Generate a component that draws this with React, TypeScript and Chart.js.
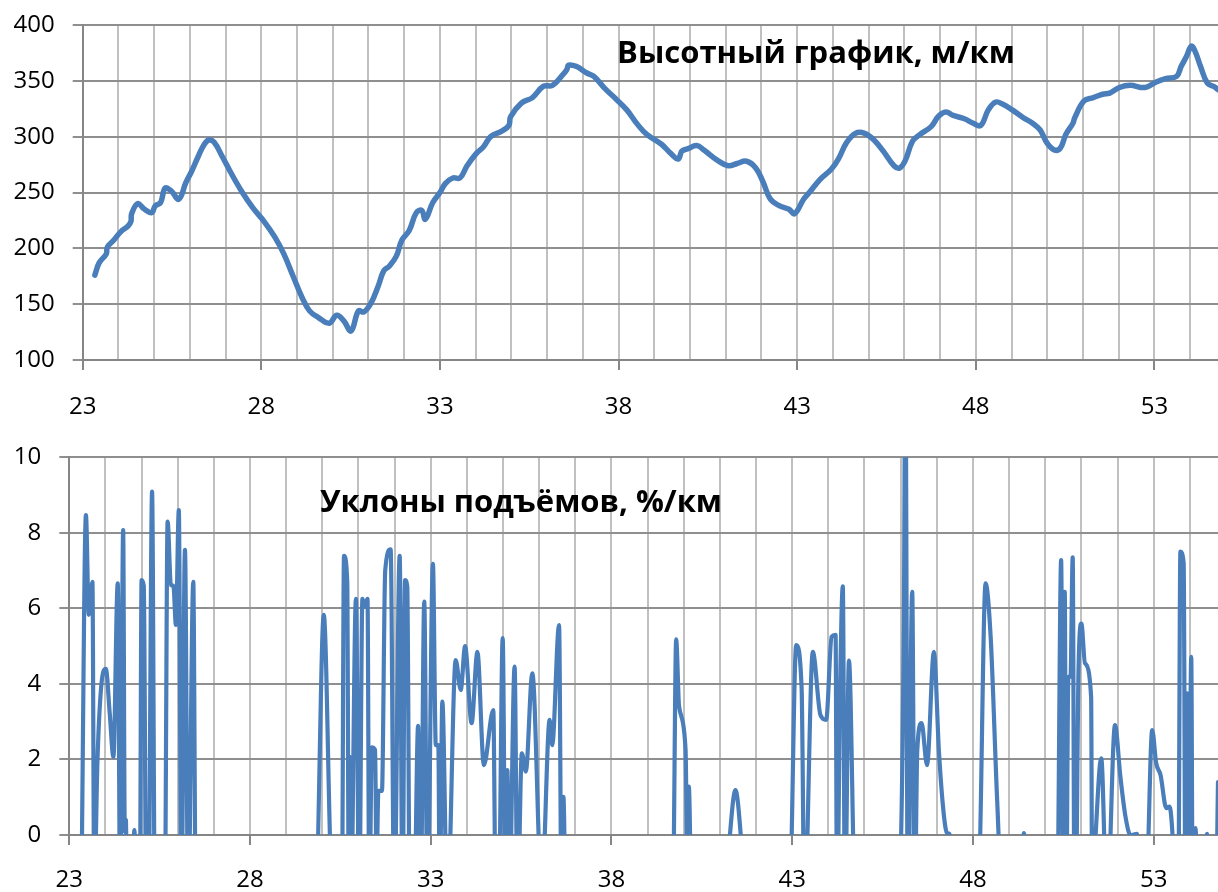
import React, { useEffect, useRef } from 'react';
import { Chart, registerables } from 'chart.js';

Chart.register(...registerables);

// ---- Data ----
const elevKm = [
  23.34, 23.46, 23.66, 23.69, 23.86, 24.07, 24.27, 24.35, 24.37, 24.54, 24.73, 24.93, 25.03, 25.18,
  25.31, 25.49, 25.69, 25.89, 26.05, 26.23, 26.40, 26.53, 26.68, 26.91, 27.16, 27.47, 27.77, 28.08,
  28.38, 28.63, 28.89, 29.14, 29.35, 29.60, 29.90, 30.11, 30.31, 30.51, 30.72, 30.87, 31.07, 31.27,
  31.43, 31.58, 31.78, 31.93, 32.14, 32.34, 32.49, 32.59, 32.80, 33.00, 33.15, 33.36, 33.56, 33.76,
  34.02, 34.22, 34.42, 34.73, 34.93, 34.98, 35.28, 35.59, 35.89, 36.15, 36.40, 36.55, 36.60, 36.81,
  37.11, 37.31, 37.62, 37.92, 38.23, 38.53, 38.79, 39.21, 39.46, 39.67, 39.77, 39.93, 40.19, 40.39,
  40.76, 41.07, 41.32, 41.58, 41.84, 42.05, 42.25, 42.51, 42.77, 42.93, 43.18, 43.34, 43.65, 43.96,
  44.17, 44.37, 44.63, 44.89, 45.15, 45.41, 45.71, 45.87, 46.03, 46.23, 46.44, 46.75, 46.95, 47.16,
  47.37, 47.68, 47.93, 48.14, 48.35, 48.56, 48.76, 49.02, 49.33, 49.59, 49.80, 50.00, 50.21, 50.37,
  50.52, 50.72, 50.77, 51.03, 51.29, 51.55, 51.75, 52.02, 52.32, 52.74, 53.05, 53.31, 53.62, 53.75,
  53.90, 54.03, 54.13, 54.29, 54.48, 54.66, 54.79,
];
const elevM = [
  176, 187, 195, 201, 207, 215, 220, 224, 231, 240, 235, 232, 238, 241,
  254, 251, 244, 259, 269, 282, 293, 297, 295, 282, 267, 250, 236, 224,
  210, 195, 175, 156, 144, 138, 133, 140, 135, 126, 144, 143, 151, 166,
  180, 184, 193, 207, 216, 232, 234, 226, 241, 250, 258, 263, 263, 274,
  285, 291, 300, 305, 310, 318, 330, 335, 345, 346, 354, 360, 364, 363,
  357, 354, 343, 334, 324, 311, 302, 293, 285, 280, 287, 289, 292, 288,
  279, 274, 276, 278, 272, 259, 244, 238, 235, 231, 244, 250, 262, 271,
  281, 294, 303, 303, 297, 287, 274, 272, 279, 296, 302, 309, 318, 322,
  319, 316, 312, 310, 324, 331, 329, 324, 317, 312, 306, 294, 288, 290,
  302, 312, 317, 332, 335, 338, 339, 344, 346, 344, 349, 352, 354, 363,
  372, 381, 377, 363, 348, 345, 342,
];

const slopeKm = [
  23.34, 23.46, 23.54, 23.64, 23.69, 23.78, 23.88, 24.01, 24.12, 24.22, 24.34, 24.41, 24.49, 24.535,
  24.565, 24.6, 24.76, 24.8, 24.84, 24.95, 25.0, 25.06, 25.13, 25.19, 25.29, 25.37, 25.64, 25.72,
  25.81, 25.88, 25.95, 26.03, 26.1, 26.2, 26.29, 26.43, 26.5, 29.82, 30.04, 30.27, 30.54, 30.6,
  30.69, 30.73, 30.76, 30.79, 30.93, 31.02, 31.11, 31.17, 31.25, 31.3, 31.37, 31.46, 31.5, 31.55,
  31.65, 31.74, 31.89, 31.99, 32.14, 32.22, 32.29, 32.35, 32.42, 32.54, 32.65, 32.72, 32.82, 32.91,
  33.06, 33.14, 33.21, 33.25, 33.32, 33.46, 33.69, 33.83, 33.95, 34.13, 34.29, 34.47, 34.73, 34.8,
  34.88, 34.99, 35.07, 35.12, 35.17, 35.32, 35.4, 35.52, 35.63, 35.81, 36.07, 36.29, 36.36, 36.55,
  36.62, 36.67, 36.74, 39.7, 39.79, 39.87, 40.05, 40.1, 40.14, 40.22, 41.16, 41.43, 41.7, 42.93,
  43.11, 43.26, 43.34, 43.57, 43.78, 43.94, 44.09, 44.2, 44.24, 44.33, 44.4, 44.46, 44.57, 44.75,
  45.9, 46.09, 46.13, 46.2, 46.32, 46.39, 46.46, 46.58, 46.73, 46.92, 47.06, 47.2, 47.29, 47.35,
  47.43, 48.15, 48.35, 48.49, 48.67, 48.8, 49.35, 49.41, 49.47, 50.33, 50.44, 50.5, 50.54, 50.58,
  50.64, 50.7, 50.76, 50.81, 50.84, 50.92, 51.0, 51.1, 51.27, 51.3, 51.4, 51.55, 51.71, 51.93,
  52.08, 52.22, 52.36, 52.54, 52.64, 52.8, 52.96, 53.07, 53.19, 53.35, 53.44, 53.68, 53.74, 53.83,
  53.88, 53.93, 53.97, 54.04, 54.08, 54.16, 54.22, 54.48, 54.52, 54.72, 54.78,
];
const slopePct = [
  -1, 8.47, 5.83, 6.7, -1.5, 2.0, 3.9, 4.4, 3.2, 2.07, 6.66, -2, 8.07, 0.1,
  0.4, -2, -1, 0.13, -1, -2, 6.75, 6.6, -2, -2, 9.09, -2, -2, 8.3,
  6.62, 6.6, 5.56, 8.6, -2, 7.55, -2, 6.7, -2, -1.5, 5.83, -1.5, -2, 7.39,
  6.7, -1, 2.07, -2, 6.25, -2, 6.25, 6.05, 6.25, -2, 2.32, 2.25, -1, 1.17,
  1.17, 7.0, 7.56, -2, 7.39, -2, 6.75, 6.58, -2, -2, 2.89, -2, 6.18, -2,
  7.18, 2.38, 2.38, -2, 3.53, -2, 4.63, 3.84, 5.0, 2.96, 4.85, 1.85, 3.31, -2,
  -2, 5.21, -2, 1.72, -2, 4.46, -2, 2.16, 1.68, 4.28, -1.5, 3.05, 2.38, 5.56,
  -2, 1.01, -2, -1.5, 5.18, 3.4, 2.25, -1, 1.28, -2, -1, 1.19, -1, -1.5,
  5.03, 3.9, -2, 4.85, 3.18, 3.05, 5.25, 5.3, -2, 4.2, 6.58, -2, 4.62, -2,
  -2, 5.78, 13, -2, 6.44, -2, 2.25, 2.96, 1.85, 4.85, 2.2, 0.49, 0.04, 0.04,
  -2, -1.5, 6.66, 5.25, 0.93, -1.5, -1, 0.05, -1, -2, 7.28, -2, 6.44, -2,
  4.19, 4.19, 7.35, -2, -2, 4.3, 5.6, 4.55, 3.66, -2, 0.1, 2.03, -2, 2.91,
  1.54, 0.49, 0.0, 0.03, -2, -1.5, 2.78, 1.9, 1.59, 0.71, 0.75, -2, 7.5, 7.19,
  -2, 3.75, -2, 4.72, -2, 0.18, -2, 0.03, -2, -2, 1.4,
];

const xTickLabels = ['23', '28', '33', '38', '43', '48', '53'];
const elevTicks = [100, 150, 200, 250, 300, 350, 400];
const slopeTicks = [0, 2, 4, 6, 8, 10];
const topTitle = 'Высотный график, м/км';
const bottomTitle = 'Уклоны подъёмов, %/км';

const X_MIN = 23;
const X_MAX = 54.78;
const BLUE = '#4a7ebb';
const FONT = '"Open Sans", "Noto Sans", sans-serif';
const H_GRID = '#8f8f8f';
const V_GRID = '#c0c0c0';
const AXIS = '#868686';

Chart.defaults.font.family = FONT;

function labelFor(v: number): string {
  const s = String(Math.round(v * 1000) / 1000);
  return xTickLabels.includes(s) ? s : '';
}

type PanelCfg = {
  xs: number[];
  ys: number[];
  yTicks: number[];
  title: string;
  titleX: number;
  titleBaseline: number;
  padTop: number;
  axisWidth: number;
  xAxisHeight: number;
  labelPad: number;
  lineWidth: number;
  monotone: boolean;
};

function buildChart(canvas: HTMLCanvasElement, cfg: PanelCfg) {
  const titlePlugin = {
    id: 'innerTitle',
    afterDraw(chart: any) {
      const ctx = chart.ctx as CanvasRenderingContext2D;
      ctx.save();
      ctx.font = `bold 31px ${FONT}`;
      ctx.fillStyle = '#000';
      ctx.textAlign = 'center';
      ctx.textBaseline = 'alphabetic';
      ctx.fillText(cfg.title, cfg.titleX, cfg.titleBaseline);
      ctx.restore();
    },
  };
  const yMin = cfg.yTicks[0];
  const yMax = cfg.yTicks[cfg.yTicks.length - 1];
  const yStep = cfg.yTicks[1] - cfg.yTicks[0];
  return new Chart(canvas, {
    type: 'line',
    data: {
      datasets: [
        {
          data: cfg.xs.map((x, i) => ({ x, y: cfg.ys[i] })),
          borderColor: BLUE,
          borderWidth: cfg.lineWidth,
          pointRadius: 0,
          tension: 0.4,
          cubicInterpolationMode: cfg.monotone ? 'monotone' : 'default',
          fill: false,
          clip: 0,
          capBezierPoints: false,
          borderCapStyle: 'round',
          borderJoinStyle: 'round',
        } as any,
      ],
    },
    options: {
      animation: false,
      responsive: false,
      maintainAspectRatio: false,
      layout: { padding: { top: cfg.padTop, left: 0, right: 0, bottom: 0 } },
      plugins: {
        legend: { display: false },
        tooltip: { enabled: false },
        title: { display: false },
      },
      scales: {
        x: {
          type: 'linear',
          min: X_MIN,
          max: X_MAX,
          afterFit: (s: any) => {
            s.height = cfg.xAxisHeight;
            s.paddingLeft = 0;
            s.paddingRight = 0;
          },
          ticks: {
            stepSize: 1,
            autoSkip: false,
            maxRotation: 0,
            minRotation: 0,
            includeBounds: false,
            padding: cfg.labelPad,
            color: '#000',
            font: { family: FONT, size: 24 },
            callback: (v: any) => labelFor(Number(v)),
          },
          grid: {
            color: V_GRID,
            lineWidth: 2,
            tickLength: 10,
            tickColor: (ctx: any) =>
              ctx.tick && labelFor(ctx.tick.value) !== '' ? AXIS : 'rgba(0,0,0,0)',
          },
          border: { color: AXIS, width: 2 },
        },
        y: {
          type: 'linear',
          min: yMin,
          max: yMax,
          afterFit: (s: any) => {
            s.width = cfg.axisWidth;
            s.paddingTop = 0;
            s.paddingBottom = 0;
          },
          ticks: {
            stepSize: yStep,
            padding: 18,
            color: '#000',
            font: { family: FONT, size: 24 },
          },
          grid: { color: H_GRID, lineWidth: 2, tickLength: 10, tickColor: H_GRID },
          border: { color: AXIS, width: 2 },
        },
      },
    } as any,
    plugins: [titlePlugin],
  });
}

export default function App() {
  const topRef = useRef<HTMLCanvasElement | null>(null);
  const botRef = useRef<HTMLCanvasElement | null>(null);

  useEffect(() => {
    const top = buildChart(topRef.current!, {
      xs: elevKm,
      ys: elevM,
      yTicks: elevTicks,
      title: topTitle,
      titleX: 816,
      titleBaseline: 63,
      padTop: 25,
      axisWidth: 82.7,
      xAxisHeight: 70,
      labelPad: 23,
      lineWidth: 5.5,
      monotone: false,
    });
    const bot = buildChart(botRef.current!, {
      xs: slopeKm,
      ys: slopePct,
      yTicks: slopeTicks,
      title: bottomTitle,
      titleX: 521,
      titleBaseline: 82,
      padTop: 27.3,
      axisWidth: 69.3,
      xAxisHeight: 57,
      labelPad: 21,
      lineWidth: 4.2,
      monotone: true,
    });
    return () => {
      top.destroy();
      bot.destroy();
    };
  }, []);

  return (
    <div
      style={{
        position: 'absolute',
        left: 0,
        top: 0,
        width: 1218,
        height: 892,
        background: '#fff',
        overflow: 'hidden',
      }}
    >
      <canvas
        ref={topRef}
        width={1218}
        height={430}
        style={{ position: 'absolute', left: 0, top: 0, width: 1218, height: 430 }}
      />
      <canvas
        ref={botRef}
        width={1218}
        height={462}
        style={{ position: 'absolute', left: 0, top: 430, width: 1218, height: 462 }}
      />
    </div>
  );
}
